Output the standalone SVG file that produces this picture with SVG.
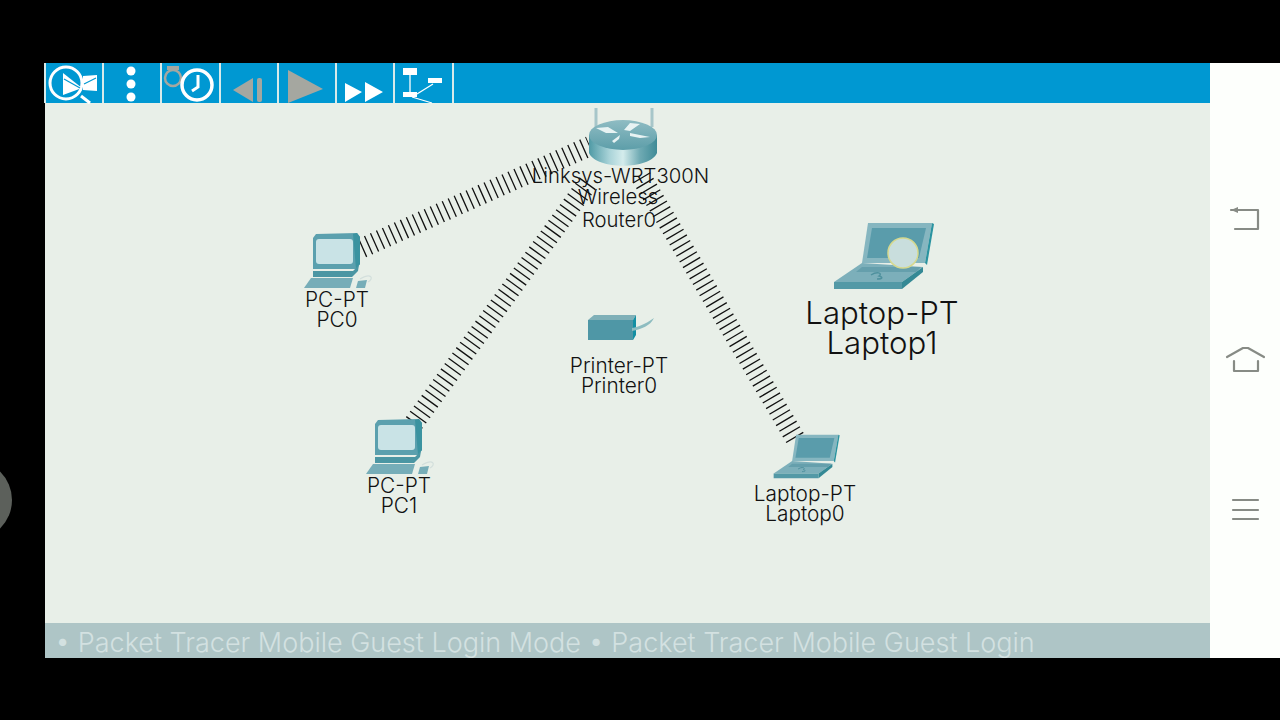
<svg xmlns="http://www.w3.org/2000/svg" width="1280" height="720" viewBox="0 0 1280 720">
<defs>
<linearGradient id="rb" x1="0" x2="1" y1="0" y2="0"><stop offset="0" stop-color="#4f9aa5"/><stop offset="0.3" stop-color="#a9d3d8"/><stop offset="0.5" stop-color="#d4ecec"/><stop offset="0.75" stop-color="#6faab3"/><stop offset="1" stop-color="#3f8b97"/></linearGradient>
<linearGradient id="rt" x1="0" x2="0" y1="0" y2="1"><stop offset="0" stop-color="#8fbcc3"/><stop offset="1" stop-color="#5d9ea9"/></linearGradient>
<g id="pc">
<path d="M-23,-24 L-20,-28 L21,-29 L24,-25 L24,2 L20,7 L-23,7 Z" fill="#5ba0ae"/>
<rect x="-20" y="-23" width="37" height="25" rx="3" fill="#c9e3e6"/>
<path d="M17,-28 L21,-29 L24,-25 L24,2 L20,7 Z" fill="#3b93a0"/>
<path d="M-23,9 L17,9 L23,3 L22,9 L16,15 L-23,15 Z" fill="#4b96a3"/>
<path d="M-25,16 L17,16 L14,26 L-32,26 Z" fill="#76adb8"/>
<path d="M22,19 L31,18 L29,26 L20,26 Z" fill="#76adb8"/>
<path d="M24,17 C36,10 38,17 32,20" fill="none" stroke="#d3dfdc" stroke-width="1.2"/>
</g>
<g id="lap">
<path d="M-15,-52 L49,-52 L42,-12 L-21,-12 Z" fill="#86b6c0"/>
<path d="M-11,-47 L43,-47 L36,-17 L-16,-17 Z" fill="#5a9cab"/>
<path d="M49,-52 L51,-51 L44,-10 L42,-12 Z" fill="#2a93a0"/>
<path d="M-49,7 L-21,-12 L40,-8 L19,7 Z" fill="#7cafba"/>
<path d="M-21,-8 L38,-8 L33,-3 L-27,-3 Z" fill="#659fac"/>
<path d="M-49,7 L19,7 L19,14 L-49,14 Z" fill="#5399a6"/>
<path d="M19,7 L40,-8 L40,-3 L19,14 Z" fill="#348995"/>
<path d="M-12,0 C-6,-4 0,-2 -4,1 C0,2 0,4 -6,4" fill="none" stroke="#4f919e" stroke-width="1.5"/>
</g>
</defs>
<style>
text{font-family:Inter,"Liberation Sans",Arial,sans-serif;fill:#111;text-anchor:middle;font-weight:300}
.s{font-size:20.8px}
.r{font-size:20.3px}
.big{font-size:31.2px}
.wire{fill:none;stroke:#111;stroke-width:20;stroke-dasharray:1.3 5.25}
.wi{fill:#fff}
.wl{fill:none;stroke:#fff}
.gy{fill:#a5a7a0}
.nav{fill:none;stroke:#878b85;stroke-width:2.2;stroke-linecap:round;stroke-linejoin:round}
</style>
<rect width="1280" height="720" fill="#000"/>
<rect x="45" y="63" width="1165" height="595" fill="#e8efe8"/>
<rect x="1210" y="63" width="70" height="595" fill="#fdfffc"/>
<circle cx="-28" cy="500" r="40" fill="#5c605b"/>
<g id="toolbar">
<rect x="45" y="63" width="1165" height="40" fill="#0098d2"/>
<g fill="#d8eaea"><rect x="44" y="63" width="2" height="40"/><rect x="102" y="63" width="2" height="40"/><rect x="160" y="63" width="2" height="40"/><rect x="219" y="63" width="2" height="40"/><rect x="277" y="63" width="2" height="40"/><rect x="335" y="63" width="2" height="40"/><rect x="393" y="63" width="2" height="40"/><rect x="452" y="63" width="2" height="40"/></g>
<circle cx="66" cy="83" r="16" fill="none" stroke="#fff" stroke-width="3"/>
<path d="M63,73 L63,95 L82,88 Z" fill="#fff"/><path d="M64,79 L80,88" stroke="#0098d2" stroke-width="1.2"/>
<path d="M83,76 L97,75 L97,91 L83,90 Z" fill="#fff"/><path d="M84,84 L96,78" stroke="#0098d2" stroke-width="1.2"/>
<path d="M81,96 L90,103" stroke="#fff" stroke-width="3"/>
<circle cx="131" cy="71" r="4.5" fill="#fff"/><circle cx="131" cy="84" r="4.5" fill="#fff"/><circle cx="131" cy="97" r="4.5" fill="#fff"/>
<circle cx="173" cy="78" r="8" fill="none" stroke="#a5a7a0" stroke-width="2.5"/><rect x="167" y="66" width="12" height="4" fill="#a5a7a0"/>
<circle cx="197" cy="85" r="15" fill="#0098d2" stroke="#fff" stroke-width="3.5"/>
<path d="M198,75 L198,87 L192,91" class="wl" stroke-width="3"/>
<path d="M233,90 L253,78 L253,102 Z" class="gy"/><rect x="257" y="78" width="5" height="24" rx="2" class="gy"/>
<path d="M288,70 L323,89 L288,103 Z" class="gy"/>
<path d="M345,83 L362,92 L345,102 Z M365,82 L383,92 L365,102 Z" class="wi"/>
<rect x="403" y="68" width="14" height="7" class="wi"/><rect x="428" y="78" width="14" height="5" class="wi"/><rect x="403" y="92" width="14" height="5" class="wi"/>
<path d="M410,75 L410,92 M417,94 L433,84 M412,97 L432,103" class="wl" stroke-width="1.3"/>
</g>
<g id="connectors">
<path class="wire" d="M362,248 L590,146"/>
<path class="wire" d="M414,423 L590,180"/>
<path class="wire" d="M795,438 L640,175"/>
</g>
<g id="router0">
<path d="M596,108 L596,127 M652,108 L652,127" stroke="#a7c6c9" stroke-width="3" fill="none"/>
<path d="M589,135 L589,153 C596,170 650,170 657,153 L657,135 Z" fill="url(#rb)"/>
<ellipse cx="623" cy="135" rx="34" ry="15" fill="url(#rt)"/>
<path d="M596,128 L608,127 L618,133 L606,133 Z M640,124 L630,123 L624,130 L630,131 Z M630,133 L650,137 L640,138 L630,136 Z M612,141 L620,135 L619,139 L614,143 Z" fill="#e8f3f3"/>
<text class="r" x="620.500" y="183">Linksys-WRT300N</text><text class="r" x="618" y="204">Wireless</text><text class="r" x="619" y="227">Router0</text>
</g>
<g id="pc0"><use href="#pc" x="336" y="262"/><text class="s" x="337" y="307">PC-PT</text><text class="s" x="337" y="327">PC0</text></g>
<g id="pc1"><use href="#pc" x="398" y="448"/><text class="s" x="399" y="493">PC-PT</text><text class="s" x="399" y="513">PC1</text></g>
<g id="printer0">
<path d="M588,320 L594,315 L636,315 L633,320 Z" fill="#7fb0b8"/>
<rect x="588" y="320" width="45" height="20" fill="#4f97a6"/>
<path d="M633,320 L636,315 L636,335 L633,340 Z" fill="#138fa3"/>
<path d="M632,328 C642,326 648,322 654,318 C650,326 642,329 632,331 Z" fill="#8dbcc0"/>
<text class="s" x="619" y="373">Printer-PT</text><text class="s" x="619" y="393">Printer0</text>
</g>
<g id="laptop0"><use href="#lap" transform="translate(806 469) scale(.66)"/><text class="s" x="805" y="501">Laptop-PT</text><text class="s" x="805" y="521">Laptop0</text></g>
<g id="laptop1"><use href="#lap" transform="translate(883 275)"/>
<circle cx="903" cy="253" r="15" fill="#c9dedd" stroke="#d6d98e" stroke-width="1.5"/>
<text class="big" x="882" y="324">Laptop-PT</text><text class="big" x="882" y="354">Laptop1</text></g>
<g id="banner"><rect x="45" y="623" width="1165" height="35" fill="#aec5c6"/>
<text x="55" y="652" style="font-size:27px;fill:#d3e1e1;text-anchor:start">• Packet Tracer Mobile Guest Login Mode • Packet Tracer Mobile Guest Login</text></g>
<g id="navbar">
<path class="nav" d="M1231,210 L1258,210 L1258,229 L1235,229"/><path d="M1231,210 L1238,207 L1238,213 Z" fill="#878b85"/>
<path class="nav" d="M1227,357 L1243,348 L1248,348 L1264,357 M1234,361 L1234,371 L1258,371 L1258,361"/>
<path class="nav" d="M1233,500 L1258,500 M1233,510 L1258,510 M1233,519 L1258,519"/>
</g>
</svg>
